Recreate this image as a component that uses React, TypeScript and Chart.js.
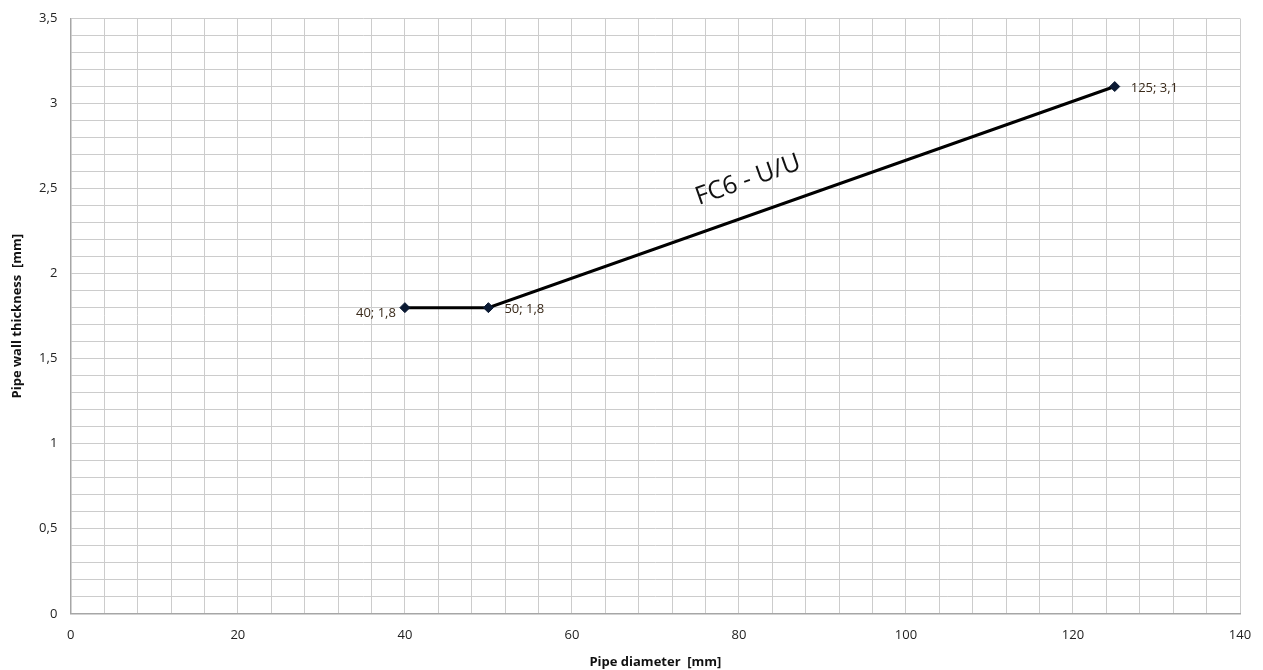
import React, { useEffect, useRef } from "react";
import { Chart, registerables } from "chart.js";

Chart.register(...registerables);

const diameters = [40, 50, 125];
const thickness = [1.8, 1.8, 3.1];
const pointLabels = ["40; 1,8", "50; 1,8", "125; 3,1"];
const labelSides = ["left", "right", "right"];
const seriesName = "FC6 - U/U";
const seriesLabelAt = { x: 81.1, y: 2.55 };
const xTitle = "Pipe diameter  [mm]";
const yTitle = "Pipe wall thickness  [mm]";

const FONT = "'Open Sans', 'Liberation Sans', sans-serif";

const labelPlugin = {
  id: "labels",
  afterDatasetsDraw(chart: any) {
    const ctx = chart.ctx;
    const meta = chart.getDatasetMeta(0);
    ctx.save();
    ctx.font = `13px ${FONT}`;
    ctx.fillStyle = "#3a2a1a";
    ctx.textBaseline = "middle";
    meta.data.forEach((pt: any, i: number) => {
      const side = labelSides[i];
      if (side === "left") {
        ctx.textAlign = "right";
        ctx.fillText(pointLabels[i], pt.x - 9, pt.y + 6);
      } else {
        ctx.textAlign = "left";
        ctx.fillText(pointLabels[i], pt.x + 16, pt.y + 2);
      }
    });
    const xs = chart.scales.x;
    const ys = chart.scales.y;
    const p1 = meta.data[1];
    const p2 = meta.data[2];
    const ang = Math.atan2(p2.y - p1.y, p2.x - p1.x);
    const cx = xs.getPixelForValue(seriesLabelAt.x);
    const cy = ys.getPixelForValue(seriesLabelAt.y);
    ctx.translate(cx, cy);
    ctx.rotate(ang);
    ctx.textAlign = "center";
    ctx.fillStyle = "#111";
    ctx.font = `25px ${FONT}`;
    ctx.fillText(seriesName, 0, 0);
    ctx.restore();
  },
};

export default function App() {
  const ref = useRef<HTMLCanvasElement>(null);
  useEffect(() => {
    if (!ref.current) return;
    const chart = new Chart(ref.current, {
      type: "scatter",
      data: {
        datasets: [
          {
            label: seriesName,
            data: diameters.map((d, i) => ({ x: d, y: thickness[i] })),
            showLine: true,
            borderColor: "#000000",
            borderWidth: 3,
            pointStyle: "rectRot",
            pointRadius: 5,
            pointBackgroundColor: "#0b1a33",
            pointBorderColor: "#0b1a33",
            pointBorderWidth: 1,
          },
        ],
      },
      options: {
        animation: false,
        responsive: false,
        maintainAspectRatio: false,
        layout: { padding: { left: 9.5, right: 0, top: 0, bottom: 0 } },
        plugins: { legend: { display: false }, tooltip: { enabled: false } },
        scales: {
          x: {
            type: "linear",
            min: 0,
            max: 140,
            afterFit: (s: any) => {
              s.paddingRight = 23;
              s.paddingLeft = 0;
            },
            grid: { color: "#cccccc", lineWidth: 1, drawTicks: false },
            border: { color: "#a6a6a6", width: 1.5 },
            ticks: {
              stepSize: 4,
              autoSkip: false,
              maxRotation: 0,
              padding: 14,
              color: "#222",
              font: { family: FONT, size: 13 },
              callback: (v: any) => (Math.round(v) % 20 === 0 ? String(Math.round(v)) : ""),
            },
            title: {
              display: true,
              text: xTitle,
              color: "#111",
              font: { family: FONT, size: 13, weight: "bold" },
              padding: { top: -3, bottom: 0 },
            },
          },
          y: {
            type: "linear",
            min: 0,
            max: 3.5,
            afterFit: (s: any) => {
              s.paddingTop = 18.5;
              s.paddingBottom = 0;
            },
            grid: { color: "#cccccc", lineWidth: 1, drawTicks: false },
            border: { color: "#a6a6a6", width: 1.5 },
            ticks: {
              stepSize: 0.1,
              autoSkip: false,
              padding: 13.5,
              color: "#222",
              font: { family: FONT, size: 13 },
              callback: (v: any) => {
                const t = Math.round(v * 10);
                return t % 5 === 0 ? String(t / 10).replace(".", ",") : "";
              },
            },
            title: {
              display: true,
              text: yTitle,
              color: "#111",
              font: { family: FONT, size: 13, weight: "bold" },
              padding: { top: 0, bottom: 0.5 },
            },
          },
        },
      },
      plugins: [labelPlugin],
    });
    return () => chart.destroy();
  }, []);
  return (
    <div style={{ position: "fixed", left: 0, top: 0, width: 1263, height: 670, background: "#fff" }}>
      <canvas ref={ref} width={1263} height={670} style={{ width: 1263, height: 670, display: "block" }} />
    </div>
  );
}
